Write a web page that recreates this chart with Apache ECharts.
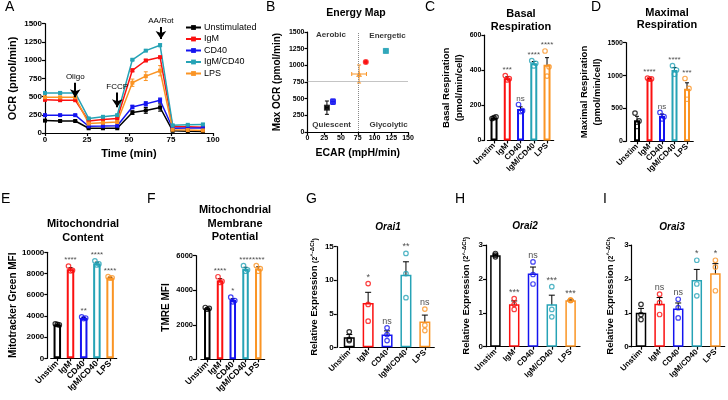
<!DOCTYPE html>
<html><head><meta charset="utf-8">
<script src="https://cdn.jsdelivr.net/npm/echarts@6/dist/echarts.min.js"></script>
<style>html,body{margin:0;padding:0;background:#fff}#c{width:728px;height:400px}</style>
</head><body><div id="c"></div><script>
// ---------------- DATA ----------------
const groups = ['Unstim', 'IgM', 'CD40', 'IgM/CD40', 'LPS'];
const legendNames = ['Unstimulated', 'IgM', 'CD40', 'IgM/CD40', 'LPS'];

// A: Seahorse OCR trace
const timeA = [0, 9, 18, 26, 34.5, 43, 52, 60, 68.5, 76, 85, 94];
const ocrUnstim  = [170, 165, 165, 65, 65, 65, 280, 310, 350, 30, 25, 22];
const ocrIgM     = [455, 450, 450, 165, 185, 200, 860, 995, 1040, 85, 85, 80];
const ocrCD40    = [245, 245, 245, 92, 95, 100, 357, 400, 450, 65, 68, 68];
const ocrIgMCD40 = [550, 550, 550, 200, 222, 245, 1005, 1130, 1205, 105, 112, 118];
const ocrLPS     = [490, 490, 490, 130, 140, 150, 690, 780, 855, 45, 40, 35];
const errUnstim  = [10, 10, 10, 5, 5, 5, 25, 40, 50, 5, 5, 5];
const errIgM     = [10, 10, 10, 10, 10, 10, 20, 15, 15, 5, 5, 5];
const errCD40    = [10, 10, 10, 5, 5, 5, 25, 30, 30, 5, 5, 5];
const errIgMCD40 = [15, 15, 15, 10, 10, 10, 10, 10, 20, 10, 10, 10];
const errLPS     = [10, 10, 10, 10, 10, 10, 50, 60, 70, 5, 5, 5];
const injections = ['Oligo', 'FCCP', 'AA/Rot'];
const injectionTimes = [18, 43, 69];
const arrowTop = [690, 555, 1455];
const arrowBottom = [490, 355, 1290];

// B: energy map (order = groups)
const ecarB = [29, 87, 38, 117, 77];
const ecarErrB = [2, 1, 3, 3, 11];
const maxOcrB = [365, 1050, 455, 1216, 870];
const maxOcrErrB = [100, 10, 40, 30, 135];
const quadrantNames = ['Aerobic', 'Energetic', 'Quiescent', 'Glycolytic'];
const quadrantPos = [[35, 1455], [119.5, 1440], [36, 105], [121, 105]];
const ecarThreshold = 75;
const ocrThreshold = 760;

// C: basal respiration
const basalMean = [130, 355, 180, 440, 432];
const basalReps = [[125, 135, 130], [370, 352, 345], [205, 170, 165], [455, 440, 425], [510, 420, 367]];
const basalSem = [4, 8, 12, 10, 40];
const basalSig = ['', '***', 'ns', '****', '****'];

// D: maximal respiration
const maxMean = [320, 952, 385, 1085, 800];
const maxReps = [[430, 310, 225], [962, 950, 945], [440, 375, 340], [1150, 1085, 1020], [955, 805, 640]];
const maxSem = [60, 5, 30, 38, 90];
const maxSig = ['', '****', 'ns', '****', '***'];

// E: mitochondrial content
const mitoMean = [3200, 8400, 3800, 8950, 7600];
const mitoReps = [[3250, 3150, 3200], [8700, 8300, 8250], [3900, 3800, 3750], [9200, 8900, 8800], [7700, 7600, 7550]];
const mitoSem = [30, 150, 50, 120, 50];
const mitoSig = ['', '****', '**', '****', '****'];

// F: mitochondrial membrane potential
const tmreMean = [2950, 4570, 3430, 5230, 5260];
const tmreReps = [[3000, 2950, 2900], [4780, 4520, 4450], [3600, 3400, 3330], [5420, 5180, 5100], [5430, 5250, 5100]];
const tmreSem = [30, 100, 80, 100, 100];
const tmreSig = ['', '****', '*', '****', '****'];

// G: Orai1
const orai1Mean = [1.5, 6.6, 1.9, 10.8, 3.85];
const orai1Reps = [[2.3, 1.2, 1.0], [9.5, 6.4, 3.9], [2.9, 1.9, 1.0], [14.0, 11.0, 7.4], [5.7, 3.3, 2.5]];
const orai1Sem = [0.4, 1.6, 0.55, 1.95, 0.95];
const orai1Sig = ['', '*', 'ns', '**', 'ns'];

// H: Orai2
const orai2Mean = [2.7, 1.25, 2.16, 1.25, 1.37];
const orai2Reps = [[2.75, 2.7, 2.65], [1.42, 1.25, 1.1], [2.5, 2.13, 1.85], [1.77, 1.1, 0.88], [1.38, 1.37, 1.36]];
const orai2Sem = [0.03, 0.1, 0.19, 0.27, 0.01];
const orai2Sig = ['', '***', 'ns', '***', '***'];

// I: Orai3
const orai3Mean = [1.0, 1.27, 1.13, 1.97, 2.17];
const orai3Reps = [[1.25, 0.95, 0.8], [1.55, 1.3, 0.95], [1.4, 1.15, 0.85], [2.55, 1.85, 1.5], [2.55, 2.35, 1.65]];
const orai3Sem = [0.13, 0.18, 0.16, 0.31, 0.28];
const orai3Sig = ['', 'ns', 'ns', '*', '*'];

// ---------------- STYLE / LAYOUT ----------------
const FONT = 'Arial, "Liberation Sans", Helvetica, sans-serif';
const colors = ['#000000', '#fb1010', '#1414f0', '#26a3b6', '#fa9424'];
const symbolsB = ['rect', 'circle', 'rect', 'rect', 'triangle'];
const L = {
  A: {left: 45, top: 23.7, width: 168, height: 109.3},
  B: {left: 307.5, top: 32, width: 100.5, height: 100},
  C: {left: 487.4, top: 35.2, width: 66.25, height: 105.3, offset: 3},
  D: {left: 630.75, top: 42.7, width: 62.5, height: 98.6, offset: 4.75},
  E: {left: 50.7, top: 252.3, width: 66, height: 106, offset: 3.4},
  F: {left: 200.9, top: 255.7, width: 63.75, height: 103.6, offset: 4.9},
  G: {left: 339.8, top: 246.7, width: 94.5, height: 100.6, offset: 3},
  H: {left: 486, top: 245, width: 94, height: 101.7, offset: 0},
  I: {left: 631.7, top: 245, width: 93, height: 101.7, offset: 0}
};

const axLine = {show: true, onZero: false, lineStyle: {color: '#000', width: 1.2}};
const axTick = {show: true, length: 3, inside: false, lineStyle: {color: '#000', width: 1.2}};
const plainNum = v => String(v);
function tickLbl(size, extra) {
  return Object.assign({color: '#000', fontSize: size, fontWeight: 'bold', fontFamily: FONT, margin: 3, formatter: plainNum}, extra || {});
}
function nameStyle(size, extra) {
  return Object.assign({color: '#000', fontSize: size, fontWeight: 'bold', fontFamily: FONT}, extra || {});
}

const grids = [], xAxes = [], yAxes = [], series = [], titles = [];

function errRender(cap, colorFn, width) {
  return function (params, api) {
    const x = api.value(0), lo = api.value(1), hi = api.value(2);
    const p1 = api.coord([x, lo]), p2 = api.coord([x, hi]);
    const st = {stroke: colorFn(params.dataIndex), lineWidth: width};
    return {type: 'group', children: [
      {type: 'line', shape: {x1: p1[0], y1: p1[1], x2: p2[0], y2: p2[1]}, style: st},
      {type: 'line', shape: {x1: p1[0] - cap, y1: p1[1], x2: p1[0] + cap, y2: p1[1]}, style: st},
      {type: 'line', shape: {x1: p2[0] - cap, y1: p2[1], x2: p2[0] + cap, y2: p2[1]}, style: st}
    ]};
  };
}

// ---------------- PANEL A ----------------
grids.push(Object.assign({}, L.A));
xAxes.push({gridIndex: 0, type: 'value', min: 0, max: 100, interval: 25,
  axisLine: axLine, axisTick: axTick, splitLine: {show: false}, axisLabel: tickLbl(8),
  name: 'Time (min)', nameLocation: 'middle', nameGap: 15, nameTextStyle: nameStyle(11)});
yAxes.push({gridIndex: 0, type: 'value', min: 0, max: 1500, interval: 250,
  axisLine: axLine, axisTick: axTick, splitLine: {show: false}, axisLabel: tickLbl(8),
  name: 'OCR (pmol/min)', nameLocation: 'middle', nameRotate: 90, nameGap: 27, nameTextStyle: nameStyle(11)});
const ocrA = [ocrUnstim, ocrIgM, ocrCD40, ocrIgMCD40, ocrLPS];
const errA = [errUnstim, errIgM, errCD40, errIgMCD40, errLPS];
ocrA.forEach((arr, i) => {
  series.push({type: 'custom', xAxisIndex: 0, yAxisIndex: 0, silent: true,
    renderItem: errRender(2, () => colors[i], 1), encode: {x: 0, y: [1, 2]},
    data: timeA.map((t, k) => [t, arr[k] - errA[i][k], arr[k] + errA[i][k]])});
  series.push({type: 'line', name: legendNames[i], xAxisIndex: 0, yAxisIndex: 0,
    data: timeA.map((t, k) => [t, arr[k]]), symbol: 'rect', symbolSize: 4,
    lineStyle: {width: 1.5, color: colors[i]}, itemStyle: {color: colors[i]}, z: 3});
});
series.push({type: 'line', name: 'injections', xAxisIndex: 0, yAxisIndex: 0, data: [],
  markLine: {silent: true, symbol: ['none', 'arrow'], symbolSize: 8,
    lineStyle: {color: '#000', width: 2, type: 'solid'},
    label: {show: true, position: 'start', formatter: '{b}', fontSize: 8, color: '#000', fontFamily: FONT, distance: 2},
    data: injections.map((n, i) => [{coord: [injectionTimes[i], arrowTop[i]], name: n},
                                    {coord: [injectionTimes[i], arrowBottom[i]]}])}});

// ---------------- PANEL B ----------------
grids.push(Object.assign({}, L.B));
xAxes.push({gridIndex: 1, type: 'value', min: 0, max: 150, interval: 25,
  axisLine: axLine, axisTick: axTick, splitLine: {show: false}, axisLabel: tickLbl(7),
  name: 'ECAR (mpH/min)', nameLocation: 'middle', nameGap: 16, nameTextStyle: nameStyle(10.5)});
yAxes.push({gridIndex: 1, type: 'value', min: 0, max: 1500, interval: 250,
  axisLine: axLine, axisTick: axTick, splitLine: {show: false}, axisLabel: tickLbl(7),
  name: 'Max OCR (pmol/min)', nameLocation: 'middle', nameRotate: 90, nameGap: 25, nameTextStyle: nameStyle(10)});
series.push({type: 'line', xAxisIndex: 1, yAxisIndex: 1, data: [],
  markLine: {silent: true, symbol: ['none', 'none'], label: {show: false},
    lineStyle: {color: '#888', width: 1, type: 'dotted'},
    data: [{xAxis: ecarThreshold}, {yAxis: ocrThreshold}]}});
series.push({type: 'scatter', xAxisIndex: 1, yAxisIndex: 1, symbolSize: 0, silent: true,
  data: quadrantNames.map((n, i) => ({name: n, value: quadrantPos[i]})),
  label: {show: true, position: 'inside', formatter: '{b}', fontSize: 8, fontWeight: 'bold', color: '#000', fontFamily: FONT}});
series.push({type: 'custom', xAxisIndex: 1, yAxisIndex: 1, silent: true, encode: {x: [0], y: [1]},
  data: ecarB.map((e, i) => [e, maxOcrB[i], ecarErrB[i], maxOcrErrB[i]]),
  renderItem: function (params, api) {
    const x = api.value(0), y = api.value(1), ex = api.value(2), ey = api.value(3);
    const c = colors[params.dataIndex];
    const st = {stroke: c, lineWidth: 1};
    const a = api.coord([x - ex, y]), b = api.coord([x + ex, y]);
    const u = api.coord([x, y + ey]), d = api.coord([x, y - ey]);
    const cap = 2;
    return {type: 'group', children: [
      {type: 'line', shape: {x1: a[0], y1: a[1], x2: b[0], y2: b[1]}, style: st},
      {type: 'line', shape: {x1: a[0], y1: a[1] - cap, x2: a[0], y2: a[1] + cap}, style: st},
      {type: 'line', shape: {x1: b[0], y1: b[1] - cap, x2: b[0], y2: b[1] + cap}, style: st},
      {type: 'line', shape: {x1: u[0], y1: u[1], x2: d[0], y2: d[1]}, style: st},
      {type: 'line', shape: {x1: u[0] - cap, y1: u[1], x2: u[0] + cap, y2: u[1]}, style: st},
      {type: 'line', shape: {x1: d[0] - cap, y1: d[1], x2: d[0] + cap, y2: d[1]}, style: st}
    ]};
  }});
ecarB.forEach((e, i) => {
  series.push({type: 'scatter', xAxisIndex: 1, yAxisIndex: 1, silent: true,
    symbol: symbolsB[i], symbolSize: 6, itemStyle: {color: colors[i]}, z: 4,
    data: [[e, maxOcrB[i]]]});
});

// ---------------- BAR PANELS ----------------
function barPanel(key, mean, reps, sem, sig, cfg) {
  const gi = grids.length;
  const g = L[key];
  grids.push({left: g.left, top: g.top, width: g.width, height: g.height});
  xAxes.push({gridIndex: gi, type: 'category', data: groups,
    axisLine: axLine, axisTick: Object.assign({alignWithLabel: true}, axTick),
    axisLabel: tickLbl(cfg.xfs, {rotate: 45, interval: 0, margin: 4, formatter: null})});
  yAxes.push({gridIndex: gi, type: 'value', min: 0, max: cfg.max, interval: cfg.interval, offset: g.offset,
    axisLine: axLine, axisTick: axTick, splitLine: {show: false}, axisLabel: tickLbl(cfg.yfs),
    name: cfg.name, nameLocation: 'middle', nameRotate: 90, nameGap: cfg.nameGap,
    nameTextStyle: nameStyle(cfg.nfs, cfg.nameExtra || {})});
  series.push({type: 'bar', xAxisIndex: gi, yAxisIndex: gi, barWidth: cfg.barWidth, silent: true,
    data: mean.map((v, i) => ({value: v, itemStyle: {color: '#fff', borderColor: colors[i], borderWidth: cfg.bw}}))});
  const jit = cfg.jitter;
  series.push({type: 'scatter', xAxisIndex: gi, yAxisIndex: gi, symbol: 'circle', symbolSize: cfg.dot, silent: true,
    data: reps.flatMap((arr, i) => arr.map((v, j) => ({value: [i, v], symbolOffset: [jit[j], 0],
      itemStyle: {color: 'rgba(255,255,255,0)', borderColor: colors[i], borderWidth: 1.2}})))});
  series.push({type: 'custom', xAxisIndex: gi, yAxisIndex: gi, silent: true, encode: {x: 0, y: [1, 2]},
    renderItem: errRender(cfg.cap, () => '#000', 1),
    data: mean.map((m, i) => [i, m - sem[i], m + sem[i]])});
  series.push({type: 'scatter', xAxisIndex: gi, yAxisIndex: gi, symbolSize: 0, silent: true,
    data: mean.map((m, i) => ({value: [i, Math.max(m + sem[i], ...reps[i])],
      label: {show: !!sig[i], formatter: sig[i] || ' ', position: 'top', distance: cfg.sigDist,
        fontSize: cfg.sfs, color: '#222', fontFamily: FONT}}))});
}

const relName = '{a|Relative Expression }{b|(2}{s|^-ΔCt}{b|)}';
const relRich = {a: {fontSize: 9.5, fontWeight: 'bold', fontFamily: FONT, color: '#000'},
  b: {fontSize: 7, fontFamily: FONT, color: '#000'},
  s: {fontSize: 6, fontFamily: FONT, color: '#000', fontWeight: 'bold', verticalAlign: 'top'}};

barPanel('C', basalMean, basalReps, basalSem, basalSig,
  {max: 600, interval: 200, xfs: 8, yfs: 7, nfs: 9.5, nameGap: 12, name: 'Basal Respiration\n(pmol/min/cell)',
   nameExtra: {lineHeight: 13}, barWidth: 7, bw: 2, dot: 4.5, jitter: [-2, 2, 0], cap: 2, sigDist: 2, sfs: 8});
barPanel('D', maxMean, maxReps, maxSem, maxSig,
  {max: 1500, interval: 500, xfs: 8, yfs: 7, nfs: 9.5, nameGap: 19, name: 'Maximal Respiration\n(pmol/min/cell)',
   nameExtra: {lineHeight: 13}, barWidth: 6, bw: 2, dot: 4.5, jitter: [-2, 2, 0], cap: 2, sigDist: 2, sfs: 8});
barPanel('E', mitoMean, mitoReps, mitoSem, mitoSig,
  {max: 10000, interval: 2000, xfs: 8.5, yfs: 8, nfs: 10, nameGap: 27, name: 'Mitotracker Green MFI',
   barWidth: 7.5, bw: 2, dot: 4.5, jitter: [-2, 2, 0], cap: 2, sigDist: 2, sfs: 8});
barPanel('F', tmreMean, tmreReps, tmreSem, tmreSig,
  {max: 6000, interval: 2000, xfs: 8.5, yfs: 7.5, nfs: 10, nameGap: 25, name: 'TMRE MFI',
   barWidth: 6.5, bw: 2, dot: 4.5, jitter: [-2, 2, 0], cap: 2, sigDist: 2, sfs: 8});
barPanel('G', orai1Mean, orai1Reps, orai1Sem, orai1Sig,
  {max: 15, interval: 5, xfs: 8, yfs: 8, nfs: 9.5, nameGap: 17, name: relName, nameExtra: {rich: relRich},
   barWidth: 11, bw: 1.5, dot: 4.5, jitter: [0, 0, 0], cap: 3, sigDist: 2, sfs: 9});
barPanel('H', orai2Mean, orai2Reps, orai2Sem, orai2Sig,
  {max: 3, interval: 1, xfs: 8, yfs: 8, nfs: 9.5, nameGap: 15, name: relName, nameExtra: {rich: relRich},
   barWidth: 10.5, bw: 1.5, dot: 4.5, jitter: [0, 0, 0], cap: 3, sigDist: 2, sfs: 9});
barPanel('I', orai3Mean, orai3Reps, orai3Sem, orai3Sig,
  {max: 3, interval: 1, xfs: 8, yfs: 8, nfs: 9.5, nameGap: 16, name: relName, nameExtra: {rich: relRich},
   barWidth: 10.5, bw: 1.5, dot: 4.5, jitter: [0, 0, 0], cap: 3, sigDist: 2, sfs: 9});

// ---------------- TITLES ----------------
function addTitle(text, x, y, size, extra) {
  titles.push({text: text, left: x, top: y, textAlign: extra && extra.align || 'left', padding: 0,
    textStyle: Object.assign({fontFamily: FONT, fontSize: size, fontWeight: 'bold', color: '#000'}, (extra && extra.ts) || {})});
}
[['A', 5, 0], ['B', 266, 0], ['C', 425, 0], ['D', 591, 0],
 ['E', 1, 192], ['F', 147, 192], ['G', 306, 192], ['H', 455, 192], ['I', 603, 192]].forEach(p =>
  addTitle(p[0], p[1], p[2], 14, {ts: {fontWeight: 'normal'}}));
addTitle('Energy Map', 356, 8, 10.5, {align: 'center'});
addTitle('Basal\nRespiration', 521, 7, 11, {align: 'center', ts: {lineHeight: 13}});
addTitle('Maximal\nRespiration', 667, 6.5, 11, {align: 'center', ts: {lineHeight: 12.5}});
addTitle('Mitochondrial\nContent', 83, 217, 11, {align: 'center', ts: {lineHeight: 14}});
addTitle('Mitochondrial\nMembrane\nPotential', 235, 203.5, 11, {align: 'center', ts: {lineHeight: 13.5}});
addTitle('Orai1', 388, 222, 10, {align: 'center', ts: {fontStyle: 'italic'}});
addTitle('Orai2', 525, 221, 10, {align: 'center', ts: {fontStyle: 'italic'}});
addTitle('Orai3', 672, 222, 10, {align: 'center', ts: {fontStyle: 'italic'}});

const chart = echarts.init(document.getElementById('c'), null, {renderer: 'canvas'});
chart.setOption({
  animation: false,
  backgroundColor: '#fff',
  textStyle: {fontFamily: FONT},
  title: titles,
  legend: {data: legendNames, orient: 'vertical', left: 185, top: 23, itemWidth: 15, itemHeight: 6,
    itemGap: 2.5, padding: 0, selectedMode: false,
    textStyle: {fontSize: 9, color: '#000', fontFamily: FONT, padding: [0, 0, 0, -2]}},
  grid: grids, xAxis: xAxes, yAxis: yAxes, series: series
});
</script></body></html>
